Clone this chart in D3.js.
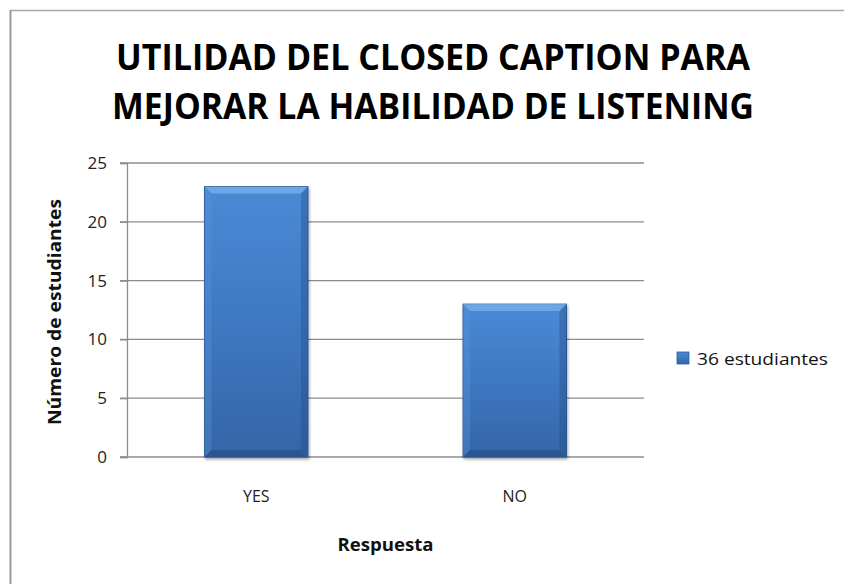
<!DOCTYPE html>
<html>
<head>
<meta charset="utf-8">
<script src="https://cdn.jsdelivr.net/npm/d3@7"></script>
<style>
  html, body { margin: 0; padding: 0; background: #ffffff; }
  svg { display: block; }
</style>
</head>
<body>
<svg id="chart" width="844" height="584"></svg>
<script>
const titleLines = ["UTILIDAD DEL CLOSED CAPTION PARA", "MEJORAR LA HABILIDAD DE LISTENING"];
const categories = ["YES", "NO"];
const values = [23, 13];
const seriesName = "36 estudiantes";
const yTicks = [0, 5, 10, 15, 20, 25];
const yTitle = "Número de estudiantes";
const xTitle = "Respuesta";

const svg = d3.select("#chart");
const W = 844, H = 584;
const plot = { left: 127, right: 644, top: 163, bottom: 457 };

// frame
svg.append("rect").attr("x", 0).attr("y", 0).attr("width", W).attr("height", H).attr("fill", "#ffffff");
svg.append("line").attr("x1", 10).attr("x2", W).attr("y1", 10.5).attr("y2", 10.5)
  .attr("stroke", "#a8a8a8").attr("stroke-width", 1.5);
svg.append("line").attr("x1", 10.5).attr("x2", 10.5).attr("y1", 10).attr("y2", H)
  .attr("stroke", "#9a9aa6").attr("stroke-width", 2);

const defs = svg.append("defs");
const grad = defs.append("linearGradient").attr("id", "barGrad")
  .attr("x1", 0).attr("y1", 0).attr("x2", 0).attr("y2", 1);
grad.append("stop").attr("offset", "0%").attr("stop-color", "#4a8ad6");
grad.append("stop").attr("offset", "50%").attr("stop-color", "#3f78c2");
grad.append("stop").attr("offset", "100%").attr("stop-color", "#3565a8");
const sh = defs.append("filter").attr("id", "shadow").attr("x", "-10%").attr("y", "-10%").attr("width", "130%").attr("height", "130%");
sh.append("feGaussianBlur").attr("in", "SourceAlpha").attr("stdDeviation", 1.5);
sh.append("feOffset").attr("dx", 1).attr("dy", 2).attr("result", "b");
sh.append("feComponentTransfer").append("feFuncA").attr("type", "linear").attr("slope", 0.35);
const m = sh.append("feMerge");
m.append("feMergeNode");
m.append("feMergeNode").attr("in", "SourceGraphic");

// title
const title = svg.append("text").attr("text-anchor", "middle")
  .attr("font-family", "'Open Sans', sans-serif").attr("font-weight", "bold")
  .attr("font-size", 35).attr("fill", "#000");
title.selectAll("tspan").data(titleLines).join("tspan")
  .attr("x", 433).attr("y", (d, i) => i === 0 ? 70 : 119)
  .attr("textLength", (d, i) => i === 0 ? 634 : 642)
  .attr("lengthAdjust", "spacingAndGlyphs")
  .text(d => d);

// scales
const x = d3.scaleBand().domain(categories).range([plot.left, plot.right])
  .paddingInner(0.6).paddingOuter(0.3);
const y = d3.scaleLinear().domain([0, 25]).range([plot.bottom, plot.top]);

// gridlines
svg.append("g").selectAll("line").data(yTicks).join("line")
  .attr("x1", plot.left - 7).attr("x2", plot.right)
  .attr("y1", d => y(d)).attr("y2", d => y(d))
  .attr("stroke", "#8c8c8c").attr("stroke-width", 1.3);

// y axis
const yAxis = svg.append("g").attr("transform", `translate(${plot.left},0)`)
  .call(d3.axisLeft(y).tickValues(yTicks).tickSize(7).tickPadding(13));
yAxis.attr("font-size", 17).attr("font-family", "'Open Sans', sans-serif");
yAxis.select(".domain").attr("stroke", "#8c8c8c").attr("stroke-width", 1.3);
yAxis.selectAll(".tick line").attr("stroke", "#8c8c8c").attr("stroke-width", 1.3);
yAxis.selectAll(".tick text").attr("font-family", "'Open Sans', sans-serif")
  .attr("font-size", 17).attr("fill", "#222");

// bars
const bars = svg.append("g").selectAll("g").data(categories.map((c, i) => ({ c, v: values[i] }))).join("g");
bars.append("rect")
  .attr("x", d => x(d.c)).attr("y", d => y(d.v))
  .attr("width", x.bandwidth()).attr("height", d => y(0) - y(d.v))
  .attr("fill", "url(#barGrad)").attr("stroke", "#2d5a96").attr("stroke-width", 1)
  .attr("filter", "url(#shadow)");
const bev = 7;
bars.each(function(d) {
  const g = d3.select(this);
  const x0 = x(d.c), x1 = x(d.c) + x.bandwidth(), y0 = y(d.v), y1 = y(0);
  const poly = (pts, fill, op) => g.append("polygon")
    .attr("points", pts.map(p => p.join(",")).join(" ")).attr("fill", fill).attr("opacity", op);
  poly([[x0, y0], [x1, y0], [x1 - bev, y0 + bev], [x0 + bev, y0 + bev]], "#8cc0f2", 0.55);
  poly([[x0, y0], [x0 + bev, y0 + bev], [x0 + bev, y1 - bev], [x0, y1]], "#5a94d8", 0.35);
  poly([[x1, y0], [x1, y1], [x1 - bev, y1 - bev], [x1 - bev, y0 + bev]], "#1f4a80", 0.35);
  poly([[x0, y1], [x0 + bev, y1 - bev], [x1 - bev, y1 - bev], [x1, y1]], "#1d4478", 0.45);
});

// x labels
svg.append("g").selectAll("text").data(categories).join("text")
  .attr("x", d => x(d) + x.bandwidth() / 2).attr("y", 502)
  .attr("text-anchor", "middle").attr("font-family", "'Open Sans', sans-serif")
  .attr("font-size", 16).attr("fill", "#222").text(d => d);

// axis titles
svg.append("text").attr("x", (plot.left + plot.right) / 2).attr("y", 551)
  .attr("text-anchor", "middle").attr("font-family", "'Open Sans', sans-serif")
  .attr("font-weight", "bold").attr("font-size", 17).attr("fill", "#111")
  .attr("textLength", 96).attr("lengthAdjust", "spacingAndGlyphs").text(xTitle);
svg.append("text").attr("transform", `translate(61,312) rotate(-90)`)
  .attr("text-anchor", "middle").attr("font-family", "'Open Sans', sans-serif")
  .attr("font-weight", "bold").attr("font-size", 17).attr("fill", "#111")
  .attr("textLength", 226).attr("lengthAdjust", "spacingAndGlyphs").text(yTitle);

// legend
const lg = svg.append("g").attr("transform", "translate(677,352)");
lg.append("rect").attr("width", 12).attr("height", 12).attr("fill", "url(#barGrad)")
  .attr("stroke", "#2d5a96").attr("stroke-width", 0.8);
lg.append("text").attr("x", 20).attr("y", 13).attr("font-family", "'Open Sans', sans-serif")
  .attr("font-size", 17).attr("fill", "#111")
  .attr("textLength", 131).attr("lengthAdjust", "spacingAndGlyphs").text(seriesName);
</script>
</body>
</html>
